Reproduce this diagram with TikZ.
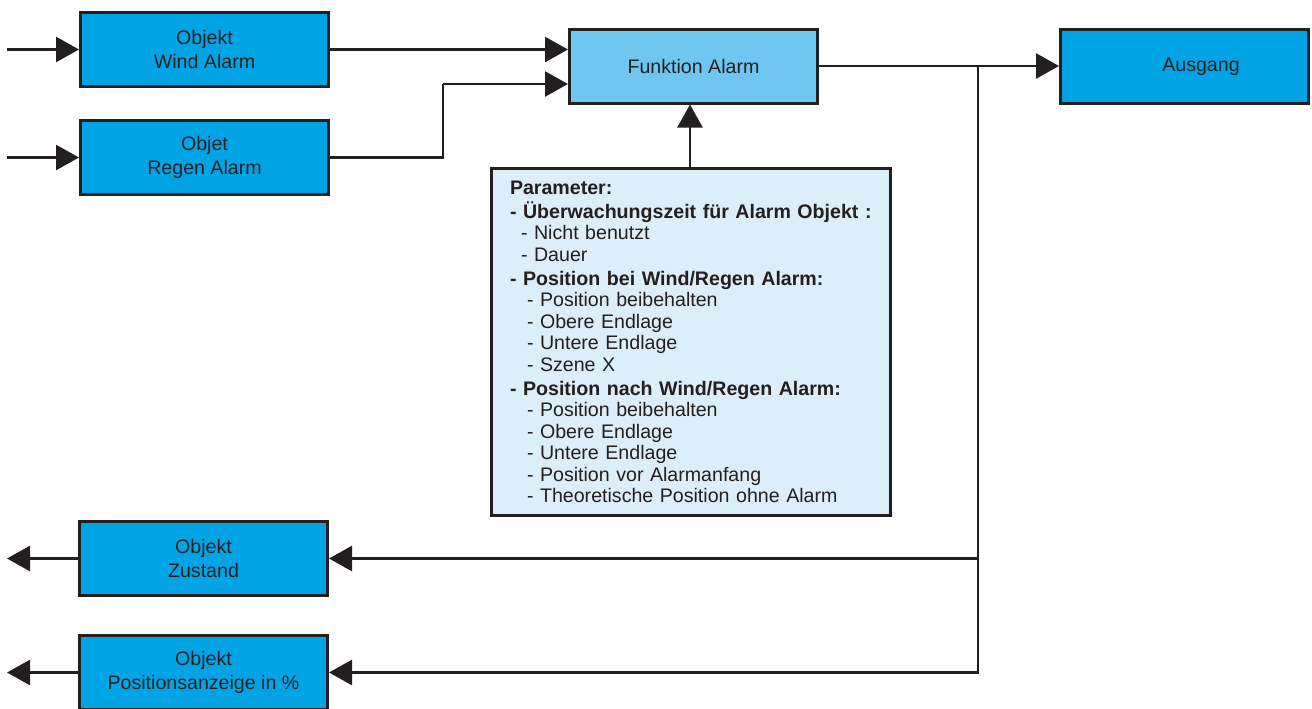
\documentclass[tikz,border=0pt]{standalone}
\usepackage{fontspec}
\setmainfont{Liberation Sans}
\usetikzlibrary{arrows.meta}

\definecolor{frame}{HTML}{231F20}
\definecolor{objblue}{HTML}{00A3E4}
\definecolor{funcblue}{HTML}{6EC6F1}
\definecolor{parambg}{HTML}{DBEEFA}

\tikzset{
  box/.style={rectangle, draw=frame, line width=1.5pt, text=frame,
    minimum width=124pt, minimum height=37pt, inner sep=0pt, align=center,
    font=\fontsize{9.8}{12}\selectfont},
  objbox/.style={box, fill=objblue},
  funcbox/.style={box, fill=funcblue},
  parambox/.style={rectangle, draw=frame, line width=1.5pt, fill=parambg, text=frame,
    minimum width=199.5pt, minimum height=173.5pt, inner sep=0pt,
    text width=181pt, align=left, font=\fontsize{9.8}{10.75}\selectfont},
  link/.style={draw=frame, line width=1.3pt,
    -{Triangle[length=11.5pt, width=12.5pt]}},
  wire/.style={draw=frame, line width=1.3pt},
}

\begin{document}
\begin{tikzpicture}[x=0.5pt, y=-0.5pt]
  \useasboundingbox (0,0) rectangle (1312,708);

  % blocks
  \node[objbox]  (wind)  at (204.5, 49.5)  {Objekt\\Wind Alarm};
  \node[objbox]  (regen) at (204.5, 157.5) {Objet\\Regen Alarm};
  \node[funcbox] (fa)    at (693.5, 66)    {Funktion Alarm};
  \node[objbox]  (aus)   at (1184.5, 66.5) {\hspace*{16.5pt}Ausgang};
  \node[objbox]  (zus)   at (203.5, 558.5) {Objekt\\Zustand};
  \node[objbox]  (pos)   at (203.5, 672.5) {Objekt\\Positionsanzeige in \%};

  % parameter list
  \node[parambox] (param) at (691, 342) {%
    \textbf{Parameter:}\\[1.25pt]
    \textbf{- Überwachungszeit für Alarm Objekt :}\\
    \hspace*{5.5pt}- Nicht benutzt\\
    \hspace*{5.5pt}- Dauer\\[1.25pt]
    \textbf{- Position bei Wind/Regen Alarm:}\\
    \hspace*{8.5pt}- Position beibehalten\\
    \hspace*{8.5pt}- Obere Endlage\\
    \hspace*{8.5pt}- Untere Endlage\\
    \hspace*{8.5pt}- Szene X\\[1.25pt]
    \textbf{- Position nach Wind/Regen Alarm:}\\
    \hspace*{8.5pt}- Position beibehalten\\
    \hspace*{8.5pt}- Obere Endlage\\
    \hspace*{8.5pt}- Untere Endlage\\
    \hspace*{8.5pt}- Position vor Alarmanfang\\
    \hspace*{8.5pt}- Theoretische Position ohne Alarm};

  % free ends and bends
  \coordinate (inW)  at (7, 49.5);
  \coordinate (inR)  at (7, 157.5);
  \coordinate (bend) at (443, 84);
  \coordinate (fork) at (978, 67);
  \coordinate (outZ) at (7, 558.5);
  \coordinate (outP) at (7, 672.5);

  % inputs
  \draw[link] (inW) -- (wind.west);
  \draw[link] (inR) -- (regen.west);

  % into the alarm function
  \draw[link] (wind.east) -- (wind.east -| fa.west);
  \draw[wire] (regen.east) -| (bend);
  \draw[link] (bend) -- (bend -| fa.west);
  \draw[link] (param.north -| 690,0) -- (690,0 |- fa.south);

  % outputs
  \draw[link] (fa.east) -- (aus.west |- fa.east);
  \draw[link] (fork) |- (zus.east);
  \draw[link] (fork) |- (pos.east);
  \draw[link] (zus.west) -- (outZ);
  \draw[link] (pos.west) -- (outP);
\end{tikzpicture}
\end{document}
